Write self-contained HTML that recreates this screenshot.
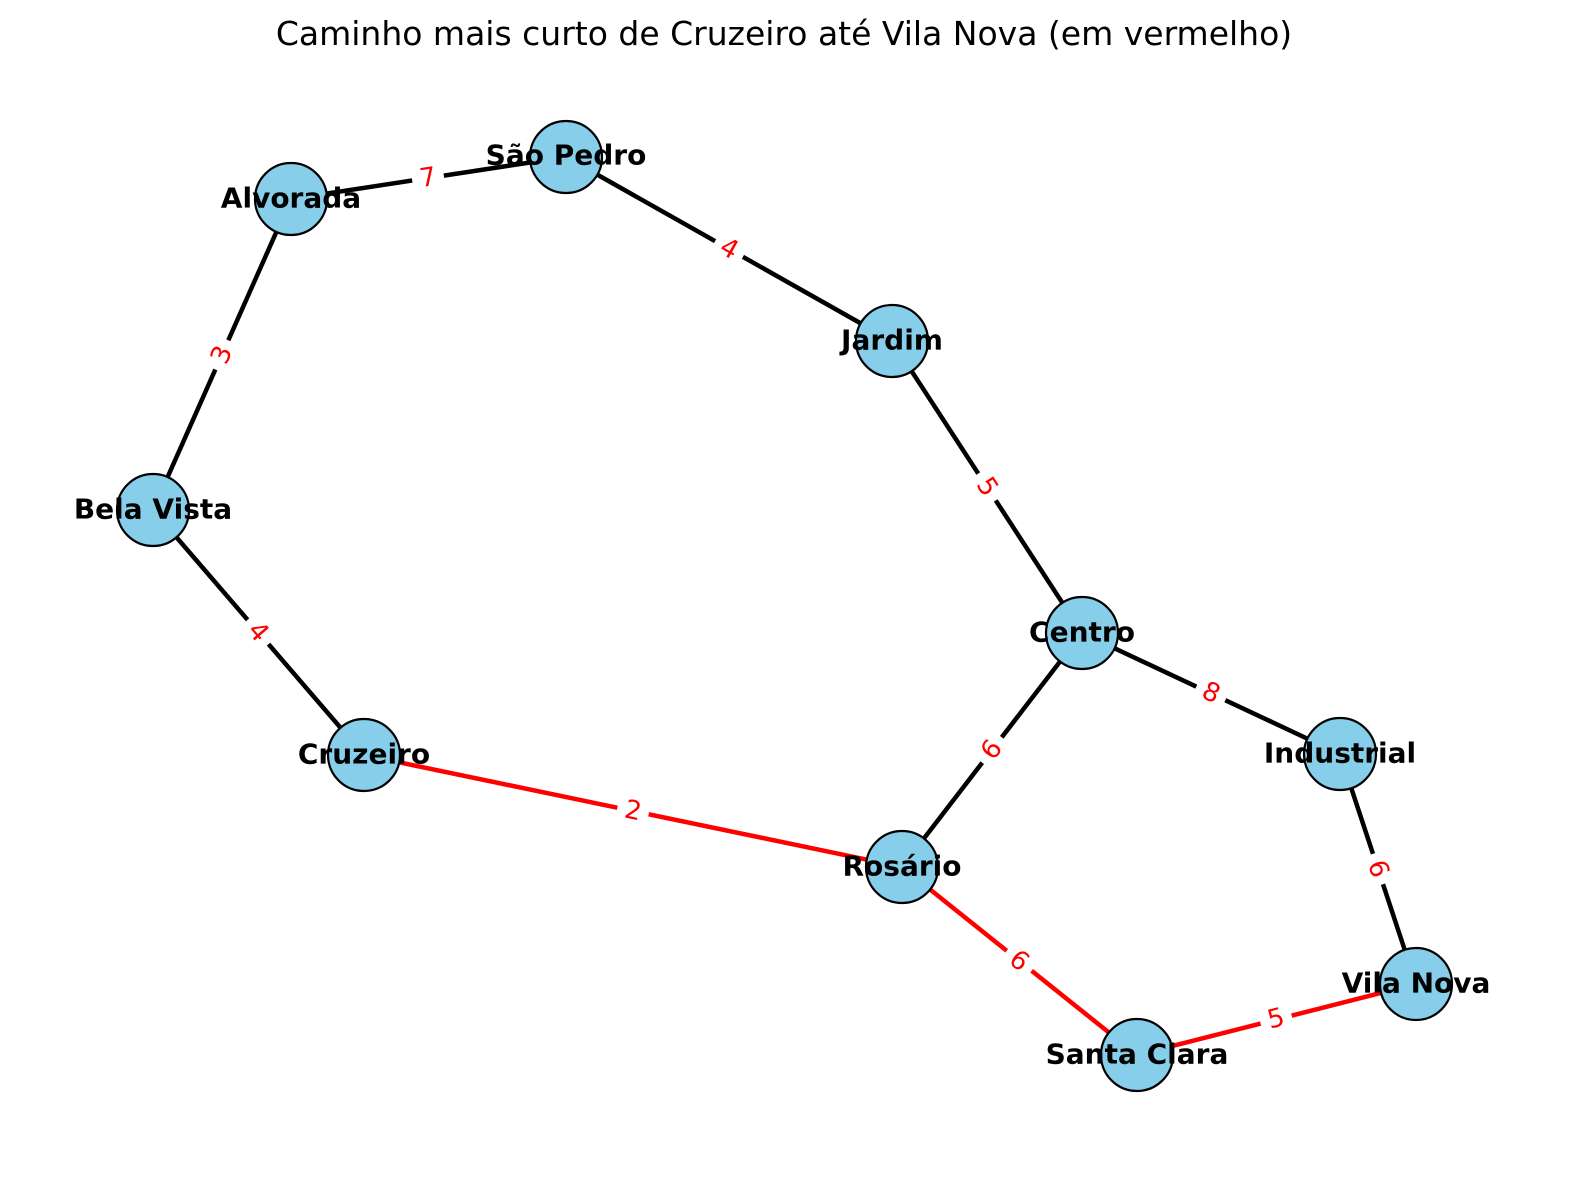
<!DOCTYPE html>
<html><head><meta charset="utf-8"><style>body{margin:0;background:#fff}svg{display:block}</style></head><body>
<svg width="1580" height="1178" viewBox="0 0 1580 1178" xmlns="http://www.w3.org/2000/svg" font-family="DejaVu Sans, Liberation Sans, sans-serif">
<rect width="1580" height="1178" fill="#fff"/>
<text x="784" y="45" font-size="33" text-anchor="middle">Caminho mais curto de Cruzeiro até Vila Nova (em vermelho)</text>
<g stroke-width="4.5" stroke-linecap="butt">
<line x1="291" y1="199" x2="566" y2="157" stroke="#000"/>
<line x1="566" y1="157" x2="892" y2="341" stroke="#000"/>
<line x1="892" y1="341" x2="1082" y2="633" stroke="#000"/>
<line x1="291" y1="199" x2="153" y2="510" stroke="#000"/>
<line x1="153" y1="510" x2="364" y2="755" stroke="#000"/>
<line x1="1082" y1="633" x2="1340" y2="754" stroke="#000"/>
<line x1="1082" y1="633" x2="902" y2="867" stroke="#000"/>
<line x1="1340" y1="754" x2="1416" y2="984" stroke="#000"/>
<line x1="364" y1="755" x2="902" y2="867" stroke="#f00"/>
<line x1="902" y1="867" x2="1137" y2="1055" stroke="#f00"/>
<line x1="1137" y1="1055" x2="1416" y2="984" stroke="#f00"/>
</g>
<g font-size="26" fill="#f00" text-anchor="middle" dominant-baseline="central">
<g transform="translate(428,178) rotate(-8.7)"><rect x="-16" y="-16" width="32" height="32" fill="#fff"/><text>7</text></g>
<g transform="translate(729,249) rotate(29.4)"><rect x="-16" y="-16" width="32" height="32" fill="#fff"/><text>4</text></g>
<g transform="translate(987,487) rotate(57)"><rect x="-16" y="-16" width="32" height="32" fill="#fff"/><text>5</text></g>
<g transform="translate(222,355) rotate(-66)"><rect x="-16" y="-16" width="32" height="32" fill="#fff"/><text>3</text></g>
<g transform="translate(258,632) rotate(49)"><rect x="-16" y="-16" width="32" height="32" fill="#fff"/><text>4</text></g>
<g transform="translate(1211,693) rotate(25)"><rect x="-16" y="-16" width="32" height="32" fill="#fff"/><text>8</text></g>
<g transform="translate(992,750) rotate(-52.4)"><rect x="-16" y="-16" width="32" height="32" fill="#fff"/><text>6</text></g>
<g transform="translate(1378,869) rotate(71.7)"><rect x="-16" y="-16" width="32" height="32" fill="#fff"/><text>6</text></g>
<g transform="translate(633,811) rotate(11.8)"><rect x="-16" y="-16" width="32" height="32" fill="#fff"/><text>2</text></g>
<g transform="translate(1019,961) rotate(38.7)"><rect x="-16" y="-16" width="32" height="32" fill="#fff"/><text>6</text></g>
<g transform="translate(1276,1019) rotate(-14.3)"><rect x="-16" y="-16" width="32" height="32" fill="#fff"/><text>5</text></g>
</g>
<g fill="#87ceeb" stroke="#000" stroke-width="2.2">
<circle cx="566" cy="157" r="36"/>
<circle cx="291" cy="199" r="36"/>
<circle cx="892" cy="341" r="36"/>
<circle cx="153" cy="510" r="36"/>
<circle cx="1082" cy="633" r="36"/>
<circle cx="1340" cy="754" r="36"/>
<circle cx="364" cy="755" r="36"/>
<circle cx="902" cy="867" r="36"/>
<circle cx="1416" cy="984" r="36"/>
<circle cx="1137" cy="1055" r="36"/>
</g>
<g font-size="28" font-weight="bold" text-anchor="middle" dominant-baseline="central">
<text x="566" y="155">São Pedro</text>
<text x="291" y="198">Alvorada</text>
<text x="892" y="340">Jardim</text>
<text x="153" y="509">Bela Vista</text>
<text x="1082" y="632">Centro</text>
<text x="1340" y="753">Industrial</text>
<text x="364" y="754">Cruzeiro</text>
<text x="902" y="866">Rosário</text>
<text x="1416" y="983">Vila Nova</text>
<text x="1137" y="1054">Santa Clara</text>
</g>
</svg>
</body></html>
